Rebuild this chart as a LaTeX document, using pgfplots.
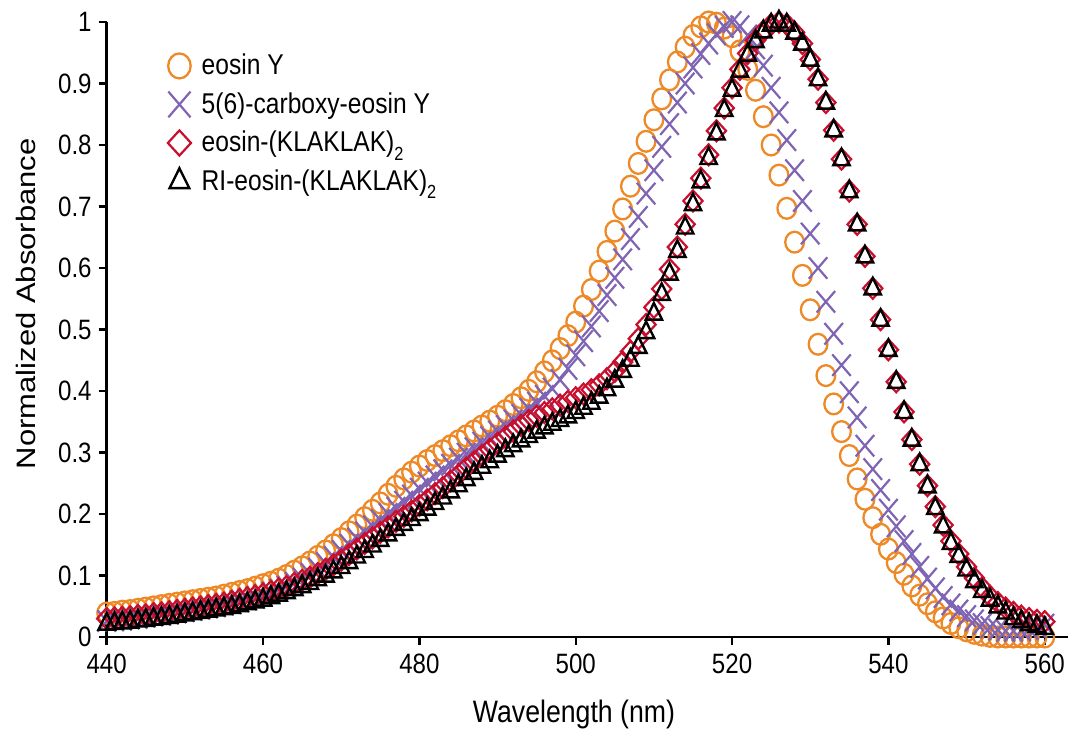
\documentclass[border=0pt]{standalone}
\usepackage{fontspec}
\setmainfont{Liberation Sans}[FakeStretch=0.86]
\newfontfamily\plainsans{Liberation Sans}
\usepackage{graphicx}
\usepackage{pgfplots}
\usepackage{pgfplotstable}
\pgfplotsset{compat=1.18}
\definecolor{cOrange}{HTML}{EE8928}
\definecolor{cPurple}{HTML}{8064B4}
\definecolor{cRed}{HTML}{C8102E}
\newcommand{\sub}[1]{\raisebox{-0.55ex}{\fontsize{9.5}{10}\selectfont #1}}
\pgfplotstableread{
x a b c d
440 .039 .026 .030 .021
441 .040 .027 .031 .022
442 .042 .028 .032 .023
443 .043 .030 .033 .024
444 .045 .031 .035 .026
445 .047 .033 .036 .027
446 .049 .035 .038 .029
447 .051 .036 .039 .030
448 .053 .038 .041 .032
449 .055 .040 .043 .034
450 .057 .042 .045 .036
451 .059 .044 .047 .038
452 .061 .046 .049 .040
453 .063 .048 .051 .042
454 .065 .050 .053 .044
455 .068 .053 .055 .046
456 .071 .055 .058 .048
457 .074 .058 .061 .051
458 .077 .061 .064 .054
459 .081 .064 .067 .057
460 .085 .068 .070 .060
461 .089 .072 .074 .064
462 .094 .077 .078 .068
463 .100 .082 .082 .072
464 .107 .088 .087 .077
465 .114 .095 .092 .082
466 .122 .103 .097 .087
467 .131 .111 .103 .093
468 .140 .120 .110 .099
469 .150 .130 .117 .106
470 .160 .140 .125 .113
471 .171 .150 .134 .121
472 .182 .160 .143 .130
473 .194 .170 .152 .139
474 .206 .180 .161 .148
475 .218 .190 .170 .157
476 .232 .200 .179 .166
477 .245 .210 .188 .175
478 .257 .220 .196 .183
479 .268 .230 .205 .191
480 .278 .241 .214 .199
481 .287 .251 .223 .208
482 .295 .261 .233 .217
483 .303 .271 .243 .226
484 .311 .280 .254 .236
485 .319 .290 .264 .246
486 .327 .298 .275 .256
487 .335 .307 .285 .266
488 .343 .316 .295 .276
489 .351 .325 .305 .285
490 .359 .334 .315 .294
491 .368 .343 .325 .303
492 .378 .352 .335 .311
493 .389 .361 .344 .319
494 .401 .371 .352 .326
495 .415 .381 .359 .333
496 .431 .392 .365 .340
497 .449 .404 .371 .346
498 .469 .418 .377 .352
499 .490 .436 .383 .358
500 .512 .458 .389 .365
501 .538 .481 .395 .372
502 .565 .505 .402 .380
503 .595 .530 .410 .390
504 .627 .556 .420 .402
505 .660 .584 .432 .416
506 .696 .614 .447 .432
507 .733 .647 .464 .450
508 .770 .683 .485 .471
509 .806 .721 .508 .495
510 .841 .759 .536 .525
511 .875 .797 .566 .557
512 .906 .834 .598 .590
513 .935 .869 .634 .627
514 .959 .900 .671 .665
515 .978 .926 .709 .703
516 .992 .948 .746 .740
517 1.000 .965 .784 .778
518 .998 .980 .823 .818
519 .990 .992 .860 .856
520 .976 1.000 .893 .889
521 .953 .993 .923 .920
522 .923 .978 .949 .946
523 .889 .957 .970 .968
524 .846 .929 .985 .984
525 .800 .893 .996 .995
526 .751 .853 1.000 1.000
527 .697 .808 .996 .995
528 .642 .759 .983 .982
529 .588 .709 .965 .964
530 .532 .656 .939 .938
531 .476 .600 .907 .906
532 .425 .545 .869 .868
533 .379 .493 .824 .823
534 .334 .442 .777 .776
535 .295 .398 .725 .724
536 .257 .357 .671 .670
537 .224 .311 .619 .618
538 .194 .273 .567 .566
539 .167 .239 .516 .515
540 .143 .207 .467 .466
541 .121 .180 .415 .414
542 .102 .156 .366 .365
543 .083 .135 .321 .320
544 .068 .114 .281 .280
545 .054 .095 .246 .244
546 .041 .079 .212 .209
547 .031 .065 .182 .179
548 .022 .053 .156 .152
549 .015 .043 .135 .131
550 .010 .034 .114 .109
551 .006 .027 .096 .090
552 .003 .021 .080 .074
553 .001 .016 .066 .060
554 0 .012 .056 .049
555 0 .010 .047 .039
556 0 .010 .040 .030
557 0 .011 .034 .025
558 0 .013 .030 .020
559 0 .016 .027 .017
560 0 .020 .025 .014
}\spectra
\begin{document}
\begin{tikzpicture}
\useasboundingbox (-53.35pt,-47pt) rectangle (482.15pt,318.5pt);
\begin{axis}[
  at={(0pt,0pt)}, anchor=south west,
  scale only axis, width=480.75pt, height=307.5pt,
  xmin=440, xmax=563, ymin=0, ymax=1,
  axis x line*=bottom, axis y line*=left,
  axis line style={line width=1.2pt, -},
  tick align=outside, major tick length=4pt,
  tick style={line width=1.2pt, black},
  xtick={440,460,...,560},
  ytick={0,0.1,...,1.0},
  yticklabels={0,0.1,0.2,0.3,0.4,0.5,0.6,0.7,0.8,0.9,1},
  /pgf/number format/assume math mode=true,
  ticklabel style={font=\fontsize{14}{16}\selectfont},
  xticklabel style={yshift=-1pt},
  clip=false,
  xlabel={Wavelength (nm)},
  xlabel style={at={(axis description cs:0.486,0)}, anchor=base, yshift=-43pt, font=\fontsize{15.5}{18}\selectfont},
  ylabel={\scalebox{1}[0.86]{\plainsans\fontsize{15.5}{18}\selectfont Normalized Absorbance}},
  ylabel style={at={(axis description cs:-0.0842,0.542)}, anchor=center, rotate=0},
  legend style={at={(axis description cs:0.058,0.955)}, anchor=north west, draw=none, fill=none,
    font=\fontsize{14.3}{16}\selectfont, row sep=3.4pt, inner sep=0pt,
    cells={anchor=west}},
  legend image code/.code={\path (0cm,0cm) (0.57cm,0cm); \draw[#1, every mark/.append style={scale=1.2}] plot coordinates {(0.27cm,0cm)};},
]
\addplot[only marks, mark=o, mark size=5.2pt, cOrange, line width=1.15pt, mark options={xscale=0.9}] table[x=x,y=a]{\spectra};
\addlegendentry{eosin Y}
\addplot[only marks, mark=x, mark size=7.6pt, cPurple, line width=1.1pt, mark options={xscale=0.86}] table[x=x,y=b]{\spectra};
\addlegendentry{5(6)-carboxy-eosin Y}
\addplot[only marks, mark=square, mark size=3.7pt, cRed, line width=1.1pt, mark options={xscale=0.92, rotate=45}] table[x=x,y=c]{\spectra};
\addlegendentry{eosin-(KLAKLAK)\sub{2}}
\addplot[only marks, mark=triangle, mark size=5.5pt, black, line width=1.2pt, mark options={xscale=0.86}] table[x=x,y=d]{\spectra};
\addlegendentry{RI-eosin-(KLAKLAK)\sub{2}}
\end{axis}
\end{tikzpicture}
\end{document}
